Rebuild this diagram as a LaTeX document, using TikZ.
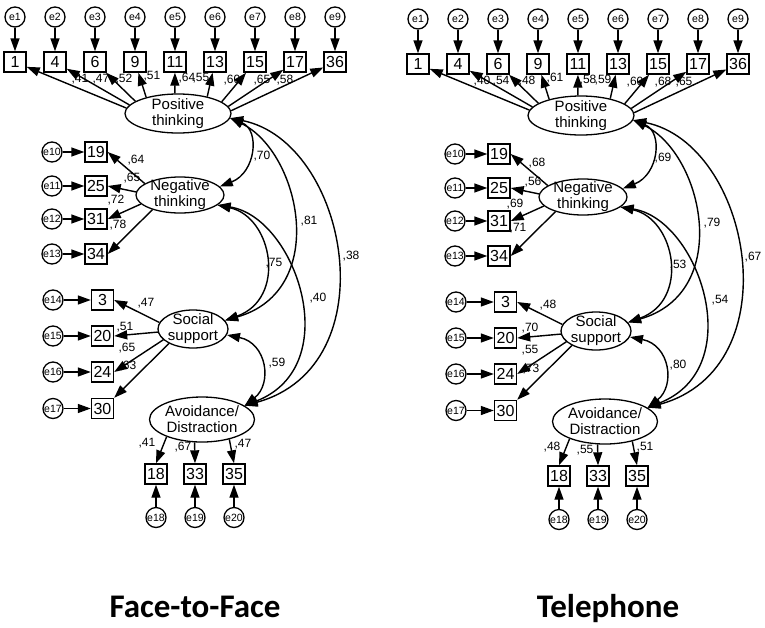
\documentclass[tikz,border=0pt]{standalone}
\usepackage{fontspec}
\setmainfont{Liberation Sans}
\newfontfamily\titlefont{Carlito}
\usetikzlibrary{shapes.geometric,arrows.meta}
\tikzset{
 obs/.style={draw, rectangle, line width=1.4pt, minimum width=22pt, minimum height=20pt, inner sep=0pt, font=\fontsize{16}{16}\selectfont},
 err/.style={draw, circle, line width=1.3pt, minimum size=20pt, inner sep=0pt, font=\fontsize{10.5}{10.5}\selectfont},
 lat/.style={draw, ellipse, line width=1.3pt, inner sep=-3pt, align=center, font=\fontsize{15}{16}\selectfont},
 reg/.style={line width=1.4pt, -{Triangle[length=13pt,width=9pt]}},
 cov/.style={line width=1.4pt, {Triangle[length=13pt,width=9pt]}-{Triangle[length=13pt,width=9pt]}},
 coef/.style={inner sep=0pt, font=\fontsize{12}{12}\selectfont},
 ttl/.style={font=\titlefont\bfseries\fontsize{33}{33}\selectfont, inner sep=0pt}
}
% #1 prefix, #2 shift, #3 top coefs, #4 neg+ss coefs, #5 avoidance coefs, #6 correlation coefs
\newcommand\semmodel[6]{%
\begin{scope}[shift={#2}]
 \foreach \v/\x/\y in {#3,#4,#5,#6} \node[coef] at (\x,\y) {,\v};
 % positive thinking
 \foreach \t [count=\i] in {1,4,6,9,11,13,15,17,36}{
   \pgfmathsetmacro\semx{15+40*(\i-1)}
   \node[err] (#1e\i) at (\semx,17) {e\i};
   \node[obs] (#1o\t) at (\semx,62) {\t};
   \draw[reg] (#1e\i) -- (#1o\t);
 }
 \node[lat, minimum width=106pt, minimum height=39pt] (#1pos) at (178,113.5) {Positive\\thinking};
 \foreach \t/\a in {1/174,4/170,6/164,9/153,11/99,13/30,15/15,17/8,36/3}
   \draw[reg] (#1pos.\a) -- (#1o\t);
 % negative thinking
 \node[lat, minimum width=88pt, minimum height=36pt] (#1neg) at (180,195) {Negative\\thinking};
 \foreach \t/\y/\k [count=\j from 10] in {19/152/162, 25/186/176, 31/219/193, 34/254/208}{
   \node[err] (#1e\j) at (52,\y) {e\j};
   \node[obs] (#1o\t) at (96,\y) {\t};
   \draw[reg] (#1e\j) -- (#1o\t);
   \draw[reg] (#1neg.\k) -- (#1o\t.east);
 }
 % social support
 \node[lat, minimum width=70pt, minimum height=38pt] (#1ss) at (193,329) {Social\\support};
 \foreach \t/\y/\k/\g [count=\j from 14] in {3/300/169/east, 20/336/185/east, 24/372/200/east, 30/408.5/211/north east}{
   \node[err] (#1e\j) at (53,\y) {e\j};
   \node[obs] (#1o\t) at (102.5,\y) {\t};
   \draw[reg] (#1e\j) -- (#1o\t);
   \draw[reg] (#1ss.\k) -- (#1o\t.\g);
 }
 % avoidance / distraction
 \node[lat, minimum width=105pt, minimum height=45pt] (#1avo) at (202,419.5) {Avoidance/\\Distraction};
 \foreach \t/\x/\k [count=\j from 18] in {18/156/206, 33/195/252, 35/234/324}{
   \node[obs] (#1o\t) at (\x,474) {\t};
   \node[err] (#1e\j) at (\x,517.5) {e\j};
   \draw[reg] (#1e\j) -- (#1o\t);
   \draw[reg] (#1avo.\k) -- (#1o\t.north);
 }
 % correlations
 \draw[cov] (#1pos.-5) .. controls +(30,12) and +(36,-14) .. (#1neg.12);
 \draw[cov] (#1pos.-5) .. controls +(70,34) and +(105,-30) .. (#1ss.15);
 \draw[cov] (#1pos.-5) .. controls +(118,24) and +(145,-40) .. (#1avo.18);
 \draw[cov] (#1neg.-15) .. controls +(55,12) and +(62,-22) .. (#1ss.15);
 \draw[cov] (#1neg.-15) .. controls +(78,12) and +(102,-40) .. (#1avo.18);
 \draw[cov] (#1ss.-10) .. controls +(40,8) and +(28,-22) .. (#1avo.18);
\end{scope}}
\begin{document}
\begin{tikzpicture}[x=1pt,y=-1pt]
\fill[white] (0,0) rectangle (765,627);
\useasboundingbox (0,0) rectangle (765,627);
\semmodel{L}{(0,0)}
 {41/80/79, 47/101/79, 52/124/79, 51/152/76, 64/187/78, 55/201/78, 60/232/80, 65/262/80, 58/285/80}
 {64/136/160, 65/132/178, 72/116/200, 78/118/225, 47/146/303, 51/125/327, 65/127/348, 63/128/366}
 {41/147/443, 67/183/447, 47/243/444}
 {70/262/156, 81/309/221, 38/351/256, 75/274/263, 40/318/298, 59/277/363}
\semmodel{R}{(403,2)}
 {40/79/79, 54/98/79, 48/124/79, 61/152/76, 58/185/78, 59/200/78, 60/232/80, 68/260/80, 65/281/80}
 {68/134/161, 56/130/180, 69/112/202, 71/115/226, 48/145/303, 70/127/326, 55/127/348, 73/128/367}
 {48/149/445, 55/182/448, 51/242/445}
 {69/260/156, 79/309/221, 67/350/255, 53/275/263, 54/317/298, 80/275/363}
\node[ttl, anchor=base] (t1) at (195,617) {Face-to-Face};
\node[ttl, anchor=base] (t2) at (608,617) {Telephone};
\end{tikzpicture}
\end{document}
